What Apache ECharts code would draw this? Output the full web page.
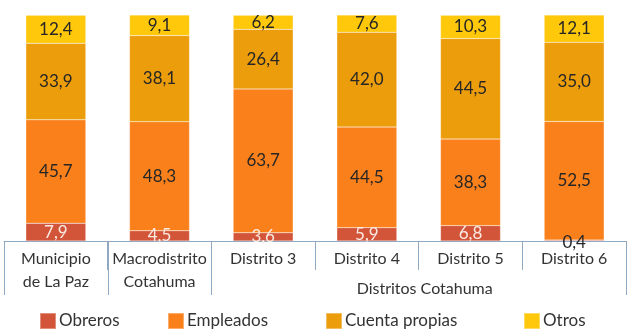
<!DOCTYPE html>
<html>
<head>
<meta charset="utf-8">
<script src="https://cdn.jsdelivr.net/npm/echarts@6/dist/echarts.min.js"></script>
<style>
  html, body { margin: 0; padding: 0; background: #fff; }
  #main { width: 629px; height: 336px; }
</style>
</head>
<body>
<div id="main"></div>
<script>
const categories = ['Municipio\nde La Paz', 'Macrodistrito\nCotahuma', 'Distrito 3', 'Distrito 4', 'Distrito 5', 'Distrito 6'];
const obreros = [7.9, 4.5, 3.6, 5.9, 6.8, 0.4];
const empleados = [45.7, 48.3, 63.7, 44.5, 38.3, 52.5];
const cuentaPropias = [33.9, 38.1, 26.4, 42.0, 44.5, 35.0];
const otros = [12.4, 9.1, 6.2, 7.6, 10.3, 12.1];
const groupLabel = 'Distritos Cotahuma';

const FONT = 'Lato, "Open Sans", sans-serif';
const axisColor = '#8FA9C2';
const textColor = '#333333';

let chartDom = document.getElementById('main');
let myChart = echarts.init(chartDom);

const fmt = (p) => p.value.toFixed(1).replace('.', ',');

function makeSeries(name, data, color, labelColor) {
  return {
    name: name,
    type: 'bar',
    stack: 'total',
    barWidth: 60,
    itemStyle: { color: color, borderColor: 'rgba(255,255,255,0.35)', borderWidth: 0.5 },
    label: {
      show: true,
      position: 'inside',
      formatter: fmt,
      color: labelColor,
      fontFamily: FONT,
      fontSize: 17
    },
    data: data
  };
}

// the 0,4 label sits on the axis line in dark text
const obrerosData = obreros.map((v) => v < 1 ? { value: v, label: { color: '#262626', offset: [0, 2] } } : v);

const legendPos = [39, 167, 325, 523];
const names = ['Obreros', 'Empleados', 'Cuenta propias', 'Otros'];

const option = {
  animation: false,
  textStyle: { fontFamily: FONT },
  grid: { left: 4, right: 3, top: 15, bottom: 95 },
  legend: names.map((n, i) => ({
    data: [n],
    left: legendPos[i],
    top: 312,
    padding: 0,
    itemWidth: 16,
    itemHeight: 16,
    itemGap: 0,
    icon: 'rect',
    textStyle: { fontFamily: FONT, fontSize: 17, color: textColor, padding: [0, 0, 0, -2] }
  })),
  xAxis: {
    type: 'category',
    data: categories,
    axisLine: { lineStyle: { color: axisColor, width: 1 } },
    axisTick: { show: true, length: 29, lineStyle: { color: axisColor } },
    axisLabel: { color: textColor, fontFamily: FONT, fontSize: 16, lineHeight: 23, margin: 6, interval: 0 }
  },
  yAxis: {
    type: 'value',
    min: 0,
    max: 100,
    show: false,
    splitLine: { show: false }
  },
  series: [
    makeSeries('Obreros', obrerosData, '#D2553A', '#FBE9E2'),
    makeSeries('Empleados', empleados, '#FA801C', '#262626'),
    makeSeries('Cuenta propias', cuentaPropias, '#EC9D0B', '#262626'),
    makeSeries('Otros', otros, '#FFC80B', '#262626')
  ]
};

myChart.setOption(option);

// group boundaries: long lines at outer edges of each group, plus group label
const boundaryX = (i) => {
  const a = myChart.convertToPixel({ xAxisIndex: 0 }, 0);
  const b = myChart.convertToPixel({ xAxisIndex: 0 }, 1);
  const w = b - a;
  return a - w / 2 + i * w;
};
const axisY = myChart.convertToPixel({ yAxisIndex: 0 }, 0);
const longEdges = [0, 1, 2, 6];
const graphics = longEdges.map((i) => ({
  type: 'line',
  shape: { x1: Math.round(boundaryX(i)) + 0.5, y1: axisY, x2: Math.round(boundaryX(i)) + 0.5, y2: axisY + 54 },
  style: { stroke: axisColor, lineWidth: 1 }
}));
graphics.push({
  type: 'text',
  x: (boundaryX(2) + boundaryX(6)) / 2 + 6,
  y: axisY + 48,
  style: {
    text: groupLabel,
    fill: textColor,
    font: '16px ' + FONT,
    textAlign: 'center',
    textVerticalAlign: 'middle'
  }
});
myChart.setOption({ graphic: graphics });
</script>
</body>
</html>
